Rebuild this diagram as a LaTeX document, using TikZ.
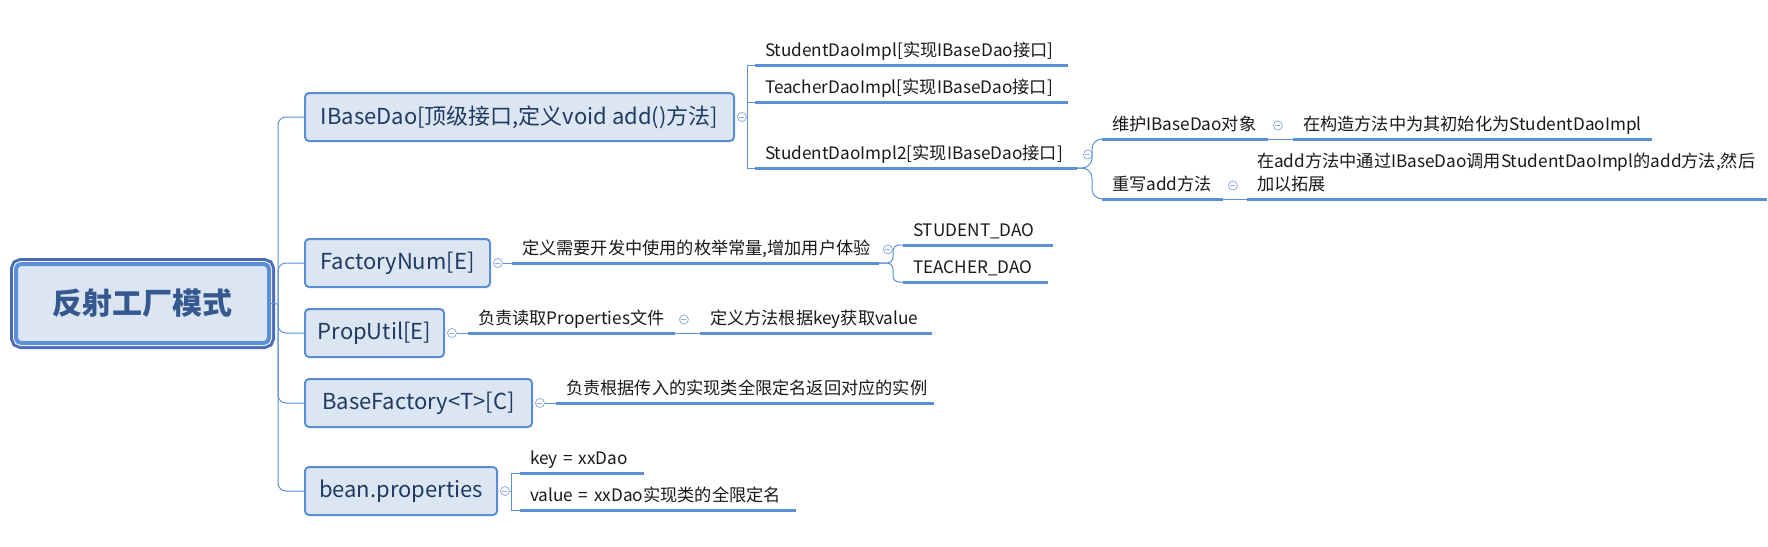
\documentclass[tikz,border=0pt]{standalone}
\usepackage{fontspec}
\setmainfont{Noto Sans CJK SC}
\usetikzlibrary{positioning}

\definecolor{boxfill}{HTML}{DCE6F2}
\definecolor{boxline}{HTML}{5A8DD6}
\definecolor{boxtext}{HTML}{1F3A63}
\definecolor{rootout}{HTML}{4A6CB8}
\definecolor{rootin}{HTML}{5B8FD6}
\definecolor{roottext}{HTML}{35588E}
\definecolor{linec}{HTML}{5B8FD6}
\definecolor{foldc}{HTML}{8EAEDC}

\begin{document}
\begin{tikzpicture}[
  x=1pt, y=-1pt,
  rootbox/.style={rectangle, rounded corners=5pt, draw=rootin, line width=4pt, fill=boxfill,
    preaction={draw=rootout, line width=12pt}, preaction={draw=white, line width=6pt},
    minimum width=253pt, minimum height=79pt, text=roottext,
    font=\fontsize{30}{36}\selectfont\bfseries},
  box/.style={rectangle, draw=boxline, line width=2pt, rounded corners=4pt, fill=boxfill,
    anchor=west, minimum height=48pt, text=boxtext, font=\fontsize{22}{26}\selectfont},
  sub/.style={anchor=south west, inner xsep=10pt, inner ysep=5pt, outer sep=0pt, align=left,
    text width=#1, text height=13pt, text depth=4pt, text=black!90,
    font=\fontsize{17.2}{23}\selectfont},
  fold/.style={circle, draw=foldc, fill=white, line width=0.8pt, inner sep=0pt, minimum size=9pt,
    path picture={\draw[foldc, line width=0.8pt] ([xshift=2pt]path picture bounding box.west)
      -- ([xshift=-2pt]path picture bounding box.east);}},
  conn/.style={draw=linec, line width=1pt},
  uline/.style={draw=linec, line width=3pt}
]
  \useasboundingbox (0,0) rectangle (1768,546);

  % centre and first level
  \node[rootbox] (root) at (142.5,303.5) {反射工厂模式};
  \coordinate (trunk) at (278,304);

  \node[box, minimum width=429pt] (ibd) at (304,117) {IBaseDao[顶级接口,定义void add()方法]};
  \node[box, minimum width=185pt] (fnum) at (304,263) {FactoryNum[E]};
  \node[box, minimum width=139pt] (putil) at (304,333) {PropUtil[E]};
  \node[box, minimum width=227pt] (bfac) at (304,403) {BaseFactory<T>[C]};
  \node[box, minimum width=192pt] (bean) at (304,491) {bean.properties};

  % IBaseDao
  \node[fold, right=2pt of ibd] (f1) {};
  \node[sub=293pt] (sd1) at (755,65) {StudentDaoImpl[实现IBaseDao接口]};
  \node[sub=293pt] (td) at (755,102) {TeacherDaoImpl[实现IBaseDao接口]};
  \node[sub=302pt] (sd2) at (755,168) {StudentDaoImpl2[实现IBaseDao接口]};
  \node[fold, right=6pt of sd2.east] (f2) {};

  \node[sub=146pt] (weihu) at (1102,139) {维护IBaseDao对象};
  \node[fold, right=5pt of weihu.east] (f3) {};
  \node[sub=339pt, right=25pt of weihu.south east, anchor=south west] (ctor) {在构造方法中为其初始化为StudentDaoImpl};
  \node[sub=101pt] (chongxie) at (1102,199) {重写add方法};
  \node[fold, right=5pt of chongxie.east] (f4) {};
  \node[sub=500pt, text depth=27pt, right=24pt of chongxie.south east, anchor=south west] (ext)
    {在add方法中通过IBaseDao调用StudentDaoImpl的add方法,然后\\加以拓展};

  % FactoryNum
  \node[fold, right=2pt of fnum] (f5) {};
  \node[sub=347pt] (enum) at (512,263) {定义需要开发中使用的枚举常量,增加用户体验};
  \node[fold, right=4pt of enum.east] (f6) {};
  \node[sub=130pt] (stud) at (903,245) {STUDENT\_DAO};
  \node[sub=125pt] (teach) at (903,282) {TEACHER\_DAO};

  % PropUtil
  \node[fold, right=2pt of putil] (f7) {};
  \node[sub=187pt] (fuze) at (468,333) {负责读取Properties文件};
  \node[fold, right=4pt of fuze.east] (f8) {};
  \node[sub=212pt, right=25pt of fuze.south east, anchor=south west] (dyf) {定义方法根据key获取value};

  % BaseFactory
  \node[fold, right=2pt of bfac] (f9) {};
  \node[sub=358pt] (fzgen) at (556,403) {负责根据传入的实现类全限定名返回对应的实例};

  % bean.properties
  \node[fold, right=2pt of bean] (f10) {};
  \node[sub=104pt] (key) at (520,473) {\mbox{key = xxDao}};
  \node[sub=256pt] (val) at (520,510) {\mbox{value = xxDao实现类的全限定名}};

  % connectors
  \draw[conn] (root.east) -- (trunk);
  \foreach \b in {ibd,fnum,putil,bfac,bean}
    \draw[conn, rounded corners=8pt] (trunk) |- (\b.west);

  \coordinate[right=1pt of f1.east] (j1);
  \draw[conn] (f1.east) -- (j1);
  \foreach \n in {sd1,td,sd2}
    \draw[conn] (j1) |- (\n.south west);

  \foreach \n in {weihu,chongxie}
    \draw[conn, rounded corners=10pt] (sd2.south east) -- ++(15,0) |- (\n.south west);
  \draw[conn] (weihu.south east) -- (ctor.south west);
  \draw[conn] (chongxie.south east) -- (ext.south west);

  \draw[conn] (f5.east) -- (enum.south west);
  \foreach \n in {stud,teach}
    \draw[conn, rounded corners=6pt] (enum.south east) -- ++(14,0) |- (\n.south west);

  \draw[conn] (f7.east) -- (fuze.south west);
  \draw[conn] (fuze.south east) -- (dyf.south west);
  \draw[conn] (f9.east) -- (fzgen.south west);

  \coordinate[right=1.5pt of f10.east] (j2);
  \draw[conn] (f10.east) -- (j2);
  \foreach \n in {key,val}
    \draw[conn] (j2) |- (\n.south west);

  \foreach \n in {sd1,td,sd2,weihu,ctor,chongxie,ext,enum,stud,teach,fuze,dyf,fzgen,key,val}
    \draw[uline] (\n.south west) -- (\n.south east);
\end{tikzpicture}
\end{document}
